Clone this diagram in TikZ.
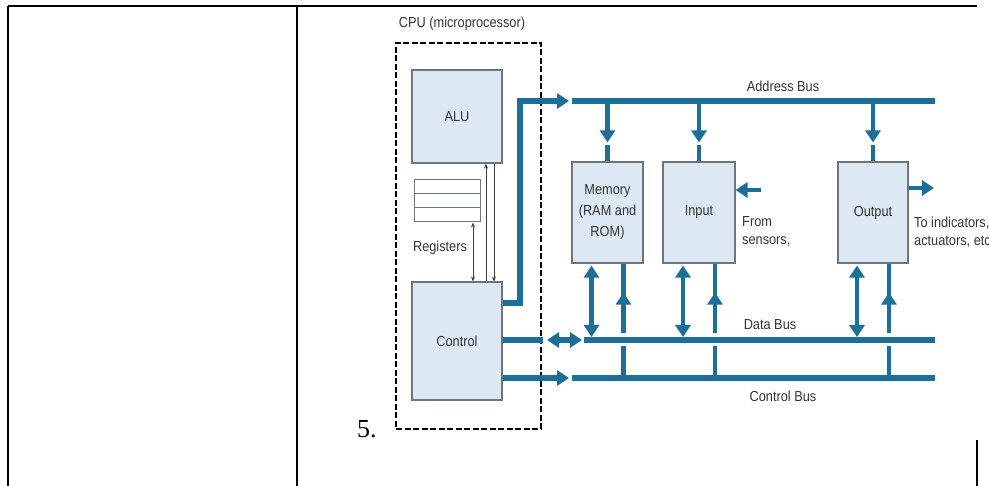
\documentclass[tikz,border=0pt]{standalone}
\usepackage{fontspec}
\setmainfont{Liberation Serif}
\newfontfamily\diafont[FakeStretch=0.88]{Liberation Sans}
\usetikzlibrary{arrows.meta,calc}
\definecolor{busblue}{HTML}{1D6E98}
\definecolor{boxfill}{HTML}{DCE9F5}
\definecolor{boxline}{HTML}{6F7579}
\definecolor{txt}{HTML}{333333}
\begin{document}
\begin{tikzpicture}[x=1pt,y=-1pt,
  frame/.style={black,line width=1.4pt},
  unit/.style={draw=boxline,fill=boxfill,line width=1.2pt,inner sep=0pt,
    font=\diafont\fontsize{14.5}{21}\selectfont,text=txt,align=center},
  regbox/.style={draw=boxline,fill=white,line width=1pt,minimum width=66pt,minimum height=14pt,inner sep=0pt},
  lbl/.style={font=\diafont\fontsize{14.5}{18}\selectfont,text=txt,inner sep=0pt},
  bus/.style={busblue,line width=6pt},
  busv/.style={busblue,line width=4.5pt},
  tip/.style={-{Triangle[length=12pt,width=15pt]}},
  dtip/.style={{Triangle[length=12pt,width=15pt]}-{Triangle[length=12pt,width=15pt]}},
  thinarrow/.style={draw=black!75,line width=0.7pt},
  sarrow/.style={-{Stealth[length=5pt,width=4pt]}},
  dsarrow/.style={{Stealth[length=5pt,width=4pt]}-{Stealth[length=5pt,width=4pt]}},
  cpubox/.style={draw=black,line width=2.8pt,dash pattern=on 6pt off 2.5pt,inner sep=0pt}]
\useasboundingbox (0,0) rectangle (989,486);

% table frame
\coordinate (tl) at (8,6);
\coordinate (tr) at (977,6);
\coordinate (bl) at (8,486);
\coordinate (tm) at (297,6);
\coordinate (bm) at (297,486);
\coordinate (rt) at (977,440);
\coordinate (rb) at (977,486);
\draw[frame] (tl) -- (tr);
\draw[frame] (tl) -- (bl);
\draw[frame] (tm) -- (bm);
\draw[frame] (rt) -- (rb);

% item number
\node[font=\fontsize{26}{26}\selectfont,anchor=base west,inner sep=0pt] (num) at (357,438) {5.};

% CPU
\node[lbl] (cpulbl) at (462,24) {CPU (microprocessor)};
\node[cpubox,minimum width=145pt,minimum height=386pt] (cpu) at (468.5,236) {};
\node[unit,minimum width=90pt,minimum height=93pt] (alu) at (457,116.5) {ALU};
\node[unit,minimum width=90pt,minimum height=118pt] (ctrl) at (457,341) {Control};
\node[regbox] (reg1) at (447,187) {};
\node[regbox] (reg2) at (447,201) {};
\node[regbox] (reg3) at (447,215) {};
\node[lbl] (reglbl) at (440,248) {Registers};

\coordinate (xr) at (473,0);
\coordinate (xu) at (486,0);
\coordinate (xd) at (494,0);
\draw[thinarrow,dsarrow] (reg3.south -| xr) -- (ctrl.north -| xr);
\draw[thinarrow,sarrow] (ctrl.north -| xu) -- (alu.south -| xu);
\draw[thinarrow,sarrow] (alu.south -| xd) -- (ctrl.north -| xd);

% units
\node[unit,minimum width=71pt,minimum height=101pt] (mem) at (607.5,212.5) {Memory\\(RAM and\\ROM)};
\node[unit,minimum width=72pt,minimum height=101pt] (inp) at (699,212.5) {Input};
\node[unit,minimum width=70pt,minimum height=101pt] (out) at (873,212.5) {Output};

% bus coordinates
\coordinate (abL) at (572,101);
\coordinate (abR) at (935,101);
\coordinate (abtip) at (569,101);
\coordinate (abbend) at (520,101);
\coordinate (aby) at (0,303);
\coordinate (dbL) at (584,340);
\coordinate (dbR) at (935,340);
\coordinate (dbcut) at (543,340);
\coordinate (dbA) at (547,340);
\coordinate (dbB) at (582,340);
\coordinate (cbL) at (572,378);
\coordinate (cbR) at (935,378);
\coordinate (cbtip) at (569,378);

% address bus
\draw[bus] (abL) -- (abR);
\draw[bus,tip] (ctrl.east |- aby) -| (abbend) -- (abtip);

% control bus
\draw[bus] (cbL) -- (cbR);
\draw[bus,tip] (ctrl.east |- cbL) -- (cbtip);

% unit links
\foreach \u in {mem,inp,out}{
  \draw[busv,tip] (\u.north |- abL) -- ($(\u.north)+(0,-19)$);
  \draw[busv] ($(\u.north)+(0,-16)$) -- (\u.north);
  \draw[busv] ($(\u.south |- cbL)+(16,0)$) -- ($(\u.south)+(16,0)$);
  \draw[busv,tip] ($(\u.south |- cbL)+(16,0)$) -- ($(\u.south)+(16,29)$);
}

% data bus with white halo
\draw[white,line width=13pt] (dbL) -- (dbR);
\draw[bus] (dbL) -- (dbR);
\draw[bus] (ctrl.east |- dbL) -- (dbcut);
\draw[bus,dtip] (dbA) -- (dbB);
\foreach \u in {mem,inp,out}{
  \draw[busv,dtip] ($(\u.south)+(-16,2)$) -- ($(\u.south |- dbL)+(-16,-3)$);
}

% external I/O
\coordinate (sens) at (761,190);
\coordinate (outtip) at (934,188);
\draw[busv,tip] (sens) -- (inp.east |- sens);
\draw[busv,tip] (out.east |- outtip) -- (outtip);
\node[lbl,align=left,anchor=west] (senslbl) at (742,231) {From\\sensors,};
\node[lbl,align=left,anchor=west] (indlbl) at (914,232) {To indicators,\\actuators, etc.};

% bus labels
\node[lbl] (ablbl) at (783,86) {Address Bus};
\node[lbl] (dblbl) at (770,325) {Data Bus};
\node[lbl] (cblbl) at (783,396) {Control Bus};
\end{tikzpicture}
\end{document}
